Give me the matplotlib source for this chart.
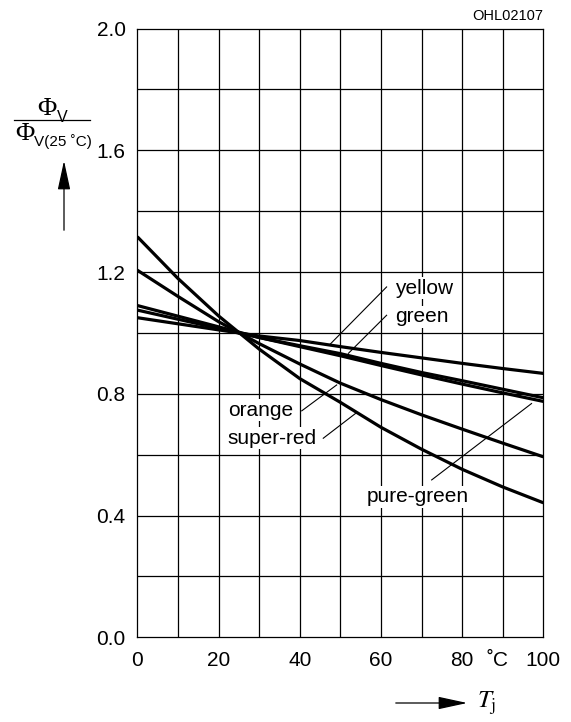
import matplotlib
matplotlib.use("Agg")
import matplotlib.pyplot as plt
from matplotlib.patches import FancyArrowPatch

plt.rcParams['font.family'] = ['Liberation Sans', 'DejaVu Sans']

# Data
temps = [0, 10, 20, 30, 40, 50, 60, 70, 80, 90, 100]
yellow = [1.050, 1.030, 1.010, 0.990, 0.975, 0.955, 0.936, 0.918, 0.900, 0.883, 0.867]
green = [1.075, 1.045, 1.015, 0.985, 0.958, 0.932, 0.900, 0.870, 0.843, 0.815, 0.787]
pure_green = [1.090, 1.055, 1.020, 0.985, 0.955, 0.925, 0.893, 0.862, 0.832, 0.803, 0.775]
orange = [1.206, 1.120, 1.037, 0.965, 0.898, 0.835, 0.781, 0.731, 0.684, 0.638, 0.593]
super_red = [1.316, 1.179, 1.056, 0.947, 0.850, 0.772, 0.690, 0.618, 0.552, 0.494, 0.442]

series = [yellow, green, pure_green, orange, super_red]
xticks = [0, 20, 40, 60, 80, 100]
yticks = [0.0, 0.4, 0.8, 1.2, 1.6, 2.0]

fig = plt.figure(figsize=(5.71, 7.22), dpi=100)
ax = fig.add_axes([0.2405, 0.1173, 0.7110, 0.8432])

for s in series:
    ax.plot(temps, s, color='black', lw=2.3, solid_capstyle='butt', zorder=3)

ax.set_xlim(0, 100)
ax.set_ylim(0, 2.0)
ax.set_xticks(xticks)
ax.set_xticklabels([str(t) for t in xticks])
ax.set_yticks(yticks)
ax.set_yticklabels([f"{v:.1f}" for v in yticks])
for gx in range(10, 100, 10):
    ax.axvline(gx, color='black', lw=0.9, zorder=1)
for gy in [0.2 * i for i in range(1, 10)]:
    ax.axhline(gy, color='black', lw=0.9, zorder=1)
for sp in ax.spines.values():
    sp.set_linewidth(0.9)
ax.tick_params(length=0, labelsize=15)
ax.tick_params(axis='y', pad=8.5)
ax.tick_params(axis='x', pad=10)

# degree C label near 80
ax.annotate("˚C", xy=(88.6, 0), xycoords=('data', 'axes fraction'),
            xytext=(0, -10), textcoords='offset points',
            ha='center', va='top', fontsize=15, annotation_clip=False)

# curve labels with leaders
bbox = dict(facecolor='white', edgecolor='none', pad=1.0)
labels = [
    ("yellow", 63.5, 1.147, (61.4, 1.151), (47.5, 0.963)),
    ("green", 63.5, 1.053, (61.4, 1.058), (52.0, 0.933)),
    ("orange", 22.3, 0.746, (40.5, 0.744), (49.1, 0.829)),
    ("super-red", 22.3, 0.654, (45.8, 0.654), (54.0, 0.738)),
    ("pure-green", 56.5, 0.462, (72.5, 0.517), (97.1, 0.768)),
]
for txt, tx, ty, p0, p1 in labels:
    ax.plot([p0[0], p1[0]], [p0[1], p1[1]], color='black', lw=0.8, zorder=4)
    ax.text(tx, ty, txt, ha='left', va='center', fontsize=15, bbox=bbox, zorder=5)

# OHL code
fig.text(0.951, 0.978, "OHL02107", ha='right', va='center', fontsize=10.5)

# y-axis label: fraction
fig.text(57 / 571, 1 - 109 / 722, "Φ", ha='right', va='center', fontsize=19,
         family='Liberation Serif')
fig.text(57 / 571, 1 - 117 / 722, "V", ha='left', va='center', fontsize=11.5)
fig.add_artist(plt.Line2D([14 / 571, 90 / 571], [1 - 120 / 722, 1 - 120 / 722], color='black', lw=0.9))
fig.text(34 / 571, 1 - 134 / 722, "Φ", ha='right', va='center', fontsize=19,
         family='Liberation Serif')
fig.text(34 / 571, 1 - 142 / 722, "V(25 ˚C)", ha='left', va='center', fontsize=11)
fig.add_artist(FancyArrowPatch(
    (64 / 571, 1 - 233 / 722), (64 / 571, 1 - 158 / 722), transform=fig.transFigure,
    arrowstyle='-|>,head_length=6,head_width=1.3', color='black', lw=0.9, mutation_scale=3))

# x-axis label arrow
fig.add_artist(FancyArrowPatch(
    (393 / 571, 1 - 703 / 722), (470 / 571, 1 - 703 / 722), transform=fig.transFigure,
    arrowstyle='-|>,head_length=6,head_width=1.3', color='black', lw=0.9, mutation_scale=3))
fig.text(477 / 571, 1 - 703 / 722, r"$T_\mathrm{j}$", ha='left', va='center', fontsize=18,
         math_fontfamily='stix')

fig.savefig("out.png", dpi=100)
